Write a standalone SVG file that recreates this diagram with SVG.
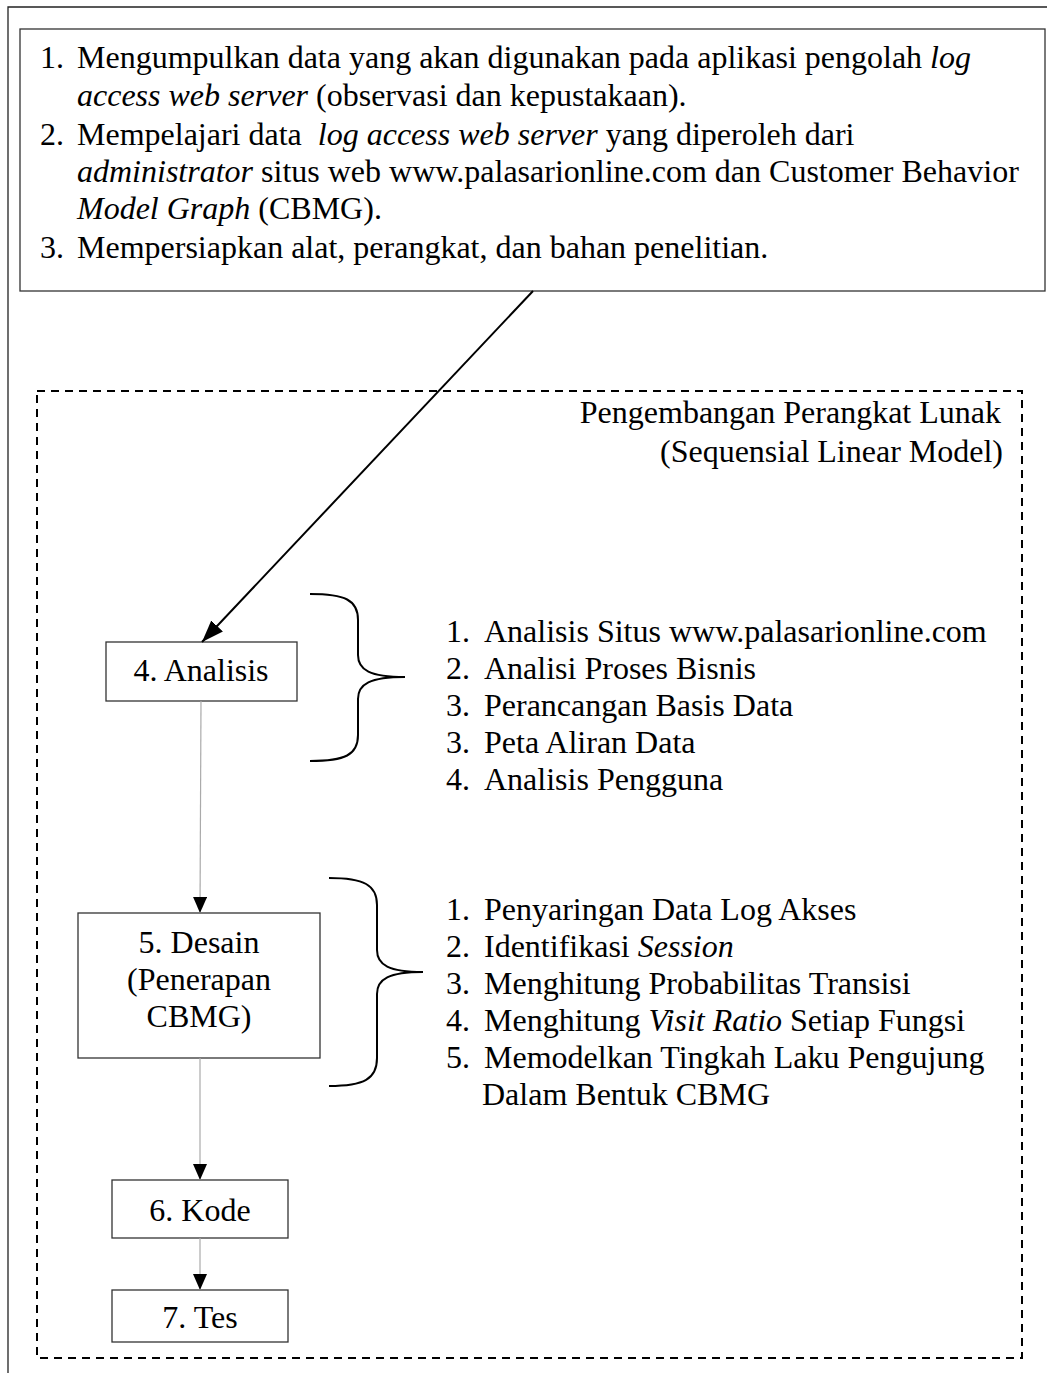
<svg xmlns="http://www.w3.org/2000/svg" width="1047" height="1373" viewBox="0 0 1047 1373">
<style>
text{font-family:"Liberation Serif","Times New Roman",serif;font-size:32px;fill:#000}
.i{font-style:italic}
.c{text-anchor:middle}
.e{text-anchor:end}
.box{fill:#fff;stroke:#333;stroke-width:1.3}
.thin{stroke:#aaa;stroke-width:1.2;fill:none}
.brace{fill:none;stroke:#000;stroke-width:2}
</style>
<defs>
<marker id="ah" viewBox="0 0 16 14" refX="16" refY="7" markerWidth="16" markerHeight="14" markerUnits="userSpaceOnUse" orient="auto">
<path d="M0,0 L16,7 L0,14 Z" fill="#000"/>
</marker>
<marker id="ahd" viewBox="0 0 22 16" refX="22" refY="8" markerWidth="22" markerHeight="16" markerUnits="userSpaceOnUse" orient="auto">
<path d="M0,0 L22,8 L0,16 Z" fill="#000"/>
</marker>
</defs>
<rect width="1047" height="1373" fill="#fff"/>
<g id="frame">
<path d="M8,1373 L8,7 L1047,7" fill="none" stroke="#222" stroke-width="1.3"/>
</g>
<g id="prep">
<rect class="box" x="20" y="29" width="1025" height="262"/>
<text x="40" y="68">1.</text>
<text x="77" y="68">Mengumpulkan data yang akan digunakan pada aplikasi pengolah <tspan class="i">log</tspan></text>
<text x="77" y="106"><tspan class="i">access web server</tspan> (observasi dan kepustakaan).</text>
<text x="40" y="145">2.</text>
<text x="77" y="145" xml:space="preserve">Mempelajari data  <tspan class="i">log access web server</tspan> yang diperoleh dari</text>
<text x="77" y="182"><tspan class="i">administrator</tspan> situs web www.palasarionline.com dan Customer Behavior</text>
<text x="77" y="219"><tspan class="i">Model Graph</tspan> (CBMG).</text>
<text x="40" y="258">3.</text>
<text x="77" y="258">Mempersiapkan alat, perangkat, dan bahan penelitian.</text>
</g>
<g id="sdlc">
<rect x="37" y="391" width="985" height="967" fill="none" stroke="#000" stroke-width="2" stroke-dasharray="8,6"/>
<text class="e" x="1001" y="423">Pengembangan Perangkat Lunak</text>
<text class="e" x="1003" y="462">(Sequensial Linear Model)</text>
</g>
<g id="n-analisis">
<rect class="box" x="106" y="642" width="191" height="59"/>
<text class="c" x="201" y="681">4. Analisis</text>
</g>
<g id="n-desain">
<rect class="box" x="78" y="913" width="242" height="145"/>
<text class="c" x="199" y="953">5. Desain</text>
<text class="c" x="199" y="990">(Penerapan</text>
<text class="c" x="199" y="1027">CBMG)</text>
</g>
<g id="n-kode">
<rect class="box" x="112" y="1180" width="176" height="58"/>
<text class="c" x="200" y="1221">6. Kode</text>
</g>
<g id="n-tes">
<rect class="box" x="112" y="1290" width="176" height="52"/>
<text class="c" x="200" y="1328">7. Tes</text>
</g>
<g id="list-analisis">
<path class="brace" d="M310,594 C345,594 358,600 358,620 L358,655 C358,670 370,677 405,677 C370,677 358,684 358,699 L358,735 C358,755 345,761 310,761"/>
<text x="446" y="642">1.</text><text x="484" y="642">Analisis Situs www.palasarionline.com</text>
<text x="446" y="679">2.</text><text x="484" y="679">Analisi Proses Bisnis</text>
<text x="446" y="716">3.</text><text x="484" y="716">Perancangan Basis Data</text>
<text x="446" y="753">3.</text><text x="484" y="753">Peta Aliran Data</text>
<text x="446" y="790">4.</text><text x="484" y="790">Analisis Pengguna</text>
</g>
<g id="list-desain">
<path class="brace" d="M329,878 C364,878 377,885 377,905 L377,950 C377,965 389,972 423,972 C389,972 377,979 377,994 L377,1058 C377,1079 364,1086 329,1086"/>
<text x="446" y="920">1.</text><text x="484" y="920">Penyaringan Data Log Akses</text>
<text x="446" y="957">2.</text><text x="484" y="957">Identifikasi <tspan class="i">Session</tspan></text>
<text x="446" y="994">3.</text><text x="484" y="994">Menghitung Probabilitas Transisi</text>
<text x="446" y="1031">4.</text><text x="484" y="1031">Menghitung <tspan class="i">Visit Ratio</tspan> Setiap Fungsi</text>
<text x="446" y="1068">5.</text><text x="484" y="1068">Memodelkan Tingkah Laku Pengujung</text>
<text x="482" y="1105">Dalam Bentuk CBMG</text>
</g>
<g id="connectors">
<line x1="533" y1="291" x2="202" y2="642" stroke="#000" stroke-width="2" marker-end="url(#ahd)"/>
<line class="thin" x1="201" y1="701" x2="200" y2="913" marker-end="url(#ah)"/>
<line class="thin" x1="200" y1="1058" x2="200" y2="1180" marker-end="url(#ah)"/>
<line class="thin" x1="200" y1="1238" x2="200" y2="1290" marker-end="url(#ah)"/>
</g>
</svg>
